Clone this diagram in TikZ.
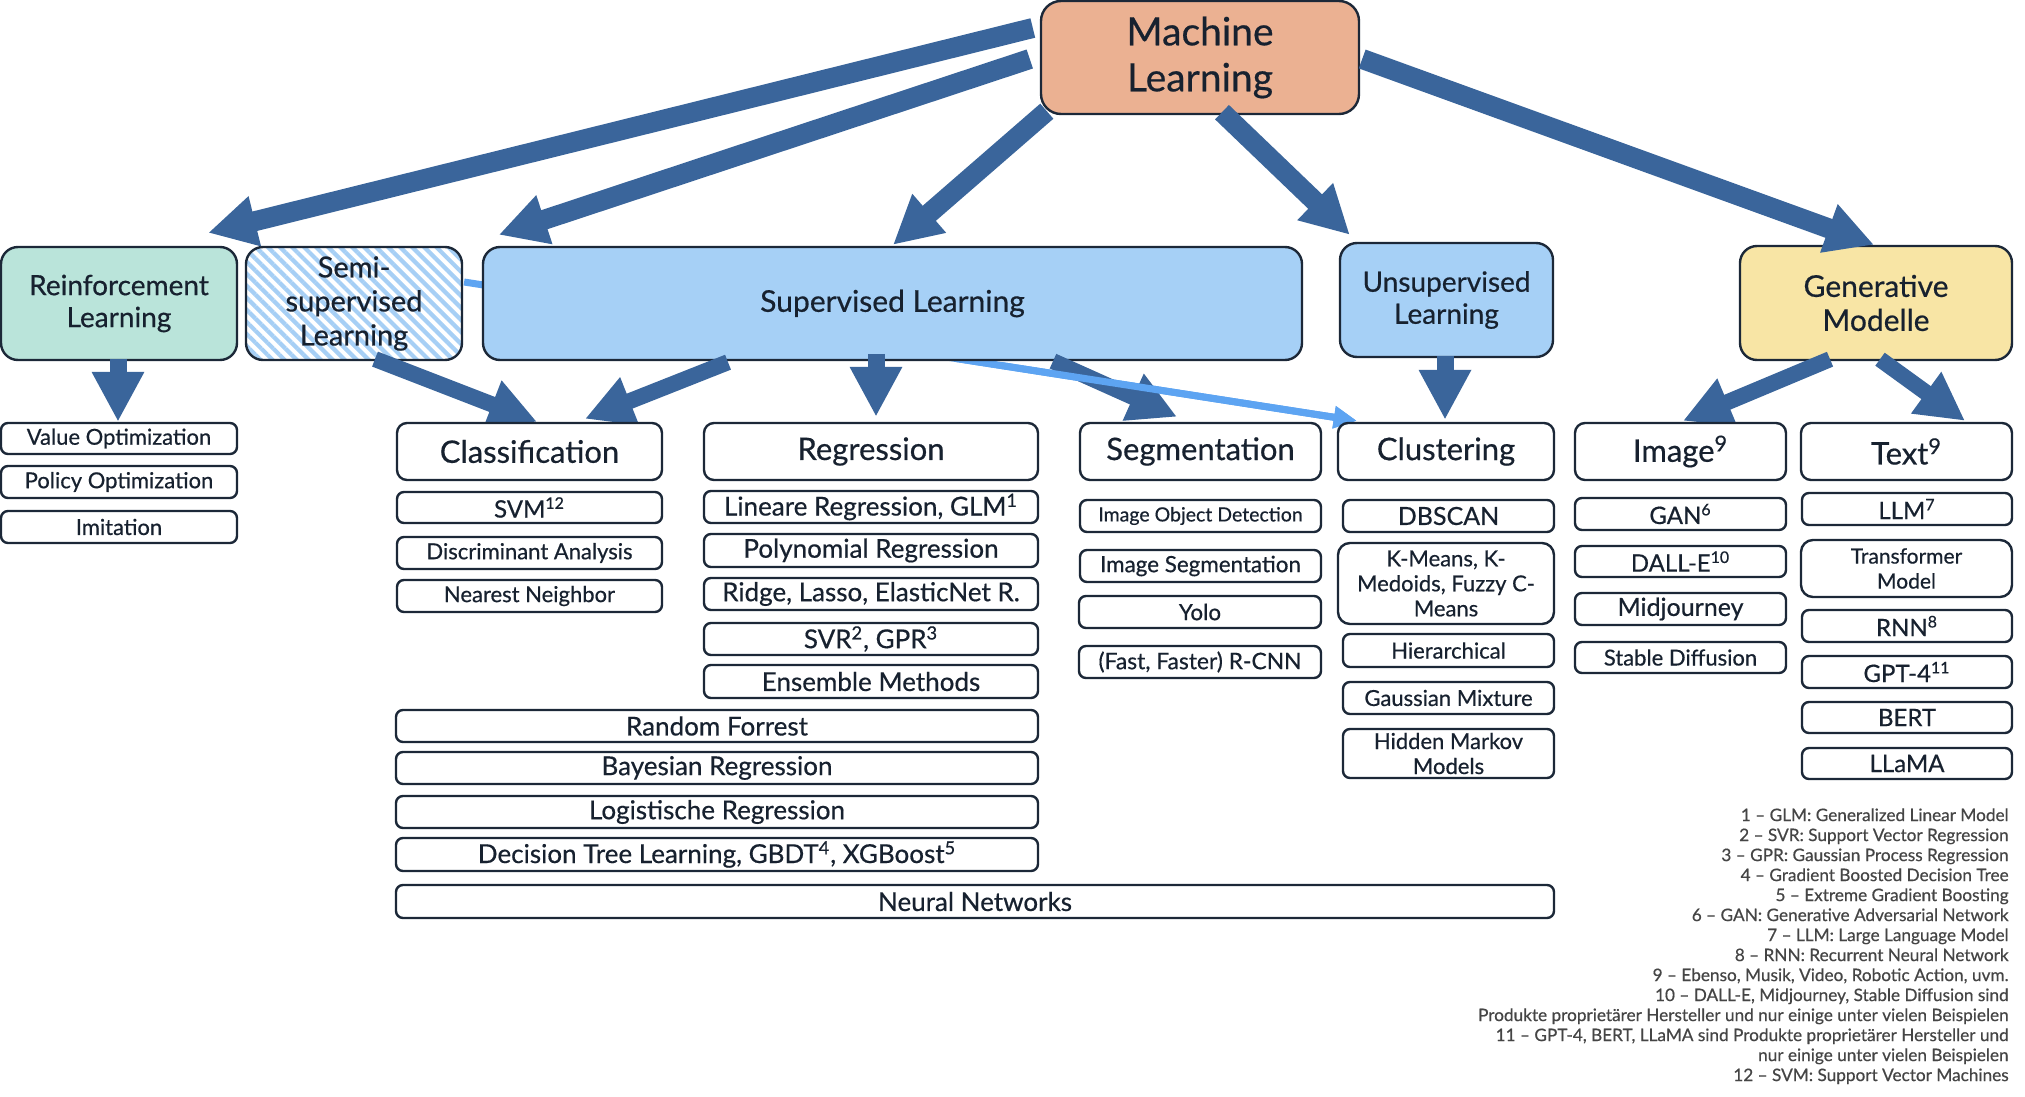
\documentclass[tikz,border=0pt]{standalone}
\usepackage{fontspec}
\setmainfont{Lato}[FakeBold=0.5]
\usetikzlibrary{calc,arrows.meta,patterns.meta}
\definecolor{bordc}{HTML}{1C2838}
\definecolor{txtc}{HTML}{17212F}
\definecolor{arrowc}{HTML}{3A659B}
\definecolor{lightarr}{HTML}{5DA4F2}
\definecolor{mlfill}{HTML}{EBB192}
\definecolor{rlfill}{HTML}{BAE4DA}
\definecolor{supfill}{HTML}{A6D0F6}
\definecolor{genfill}{HTML}{F8E5A5}
\definecolor{stripec}{HTML}{A6CFF5}
\definecolor{footc}{HTML}{454545}
\pgfdeclarelayer{bgl}
\pgfdeclarelayer{topl}
\pgfdeclarelayer{arrl}
\pgfdeclarelayer{lbl}
\pgfsetlayers{bgl,topl,arrl,lbl,main}
\newcommand\mybox[7]{%
  \pgfmathsetmacro\bxw{(#4-#2)/2}%
  \pgfmathsetmacro\bxh{(#5-#3)/2}%
  \pgfmathsetmacro\bxx{(#2+#4)/2}%
  \pgfmathsetmacro\bxy{(#3+#5)/2}%
  \node[#6, minimum width=\bxw pt, minimum height=\bxh pt] (#1) at (\bxx,\bxy) {#7};%
}
\newcommand\fs[2]{\fontsize{#1}{#2}\selectfont}
\tikzset{
  basebox/.style={draw=bordc, line width=1.2pt, text=txtc, inner sep=0pt, align=center},
  topbox/.style={basebox, rounded corners=8.5pt, font=\fs{14}{16}},
  hdr/.style={basebox, rounded corners=5pt, fill=white, font=\fs{15.5}{17}},
  item/.style={basebox, rounded corners=3.5pt, fill=white, font=\fs{13}{14}},
  bigarr/.style={draw=arrowc, line width=10pt, -{Triangle[length=24pt,width=24pt]}},
  subarr/.style={draw=arrowc, line width=8pt, -{Triangle[length=24pt,width=24pt]}},
  vertarr/.style={draw=arrowc, line width=8.5pt, -{Triangle[length=25pt,width=24.5pt]}},
  lightline/.style={draw=lightarr, line width=3.5pt, -{Triangle[length=11.5pt,width=10.5pt]}},
}
\begin{document}
\begin{tikzpicture}[x=0.5pt,y=-0.5pt]
\useasboundingbox (0,0) rectangle (2025,1097);
\begin{pgfonlayer}{bgl}
\fill[white] (0,0) rectangle (2025,1097);
\end{pgfonlayer}
% top level boxes
\begin{pgfonlayer}{topl}
\mybox{ml}{1041}{1}{1359}{114}{topbox, fill=mlfill, rounded corners=10pt, font=\fs{19.5}{23}}{Machine\\Learning}
\mybox{rl}{1}{247}{237}{360}{topbox, fill=rlfill}{Reinforcement\\Learning}
\mybox{semi}{246}{247}{462}{360}{topbox, preaction={fill=white}, pattern={Lines[angle=-45,distance=4.25pt,line width=2.1pt]}, pattern color=stripec, font=\fs{14.5}{17}}{Semi-\\supervised\\Learning}
\mybox{sup}{483}{247}{1302}{360}{topbox, fill=supfill, font=\fs{15}{16}}{Supervised Learning}
\mybox{unsup}{1340}{243}{1553}{357}{topbox, fill=supfill}{Unsupervised\\Learning}
\mybox{gen}{1740}{246}{2012}{360}{topbox, fill=genfill, font=\fs{15}{17}}{Generative\\Modelle}
\end{pgfonlayer}
% second level
\mybox{cls}{397}{423}{662}{480}{hdr}{Classification}
\mybox{reg}{704}{423}{1038}{480}{hdr}{Regression}
\mybox{seg}{1080}{423}{1321}{480}{hdr}{Segmentation}
\mybox{clu}{1338}{423}{1554}{480}{hdr}{Clustering}
\mybox{img}{1575}{423}{1786}{480}{hdr}{Image\textsuperscript{9}}
\mybox{txt}{1801}{423}{2012}{480}{hdr}{Text\textsuperscript{9}}
% items
\mybox{vo}{1}{423}{237}{454}{item, font=\fs{11}{12}}{Value Optimization}
\mybox{po}{1}{466}{237}{498}{item, font=\fs{11}{12}}{Policy Optimization}
\mybox{imi}{1}{511}{237}{543}{item, font=\fs{11}{12}}{Imitation}
\mybox{svm}{397}{492}{662}{523}{item, font=\fs{12}{14}}{SVM\textsuperscript{12}}
\mybox{da}{397}{537}{662}{569}{item, font=\fs{11}{13}}{Discriminant Analysis}
\mybox{nn}{397}{580}{662}{612}{item, font=\fs{11}{13}}{Nearest Neighbor}
\mybox{lin}{704}{491}{1038}{523}{item}{Lineare Regression, GLM\textsuperscript{1}}
\mybox{poly}{704}{534}{1038}{567}{item}{Polynomial Regression}
\mybox{ridge}{704}{578}{1038}{610}{item}{Ridge, Lasso, ElasticNet R.}
\mybox{svr}{704}{623}{1038}{655}{item}{SVR\textsuperscript{2}, GPR\textsuperscript{3}}
\mybox{ens}{704}{665}{1038}{698}{item}{Ensemble Methods}
\mybox{rf}{396}{710}{1038}{742}{item}{Random Forrest}
\mybox{bay}{396}{752}{1038}{784}{item}{Bayesian Regression}
\mybox{logi}{396}{796}{1038}{828}{item}{Logistische Regression}
\mybox{dt}{396}{838}{1038}{871}{item}{Decision Tree Learning, GBDT\textsuperscript{4}, XGBoost\textsuperscript{5}}
\mybox{neur}{396}{885}{1554}{918}{item}{Neural Networks}
\mybox{iod}{1080}{500}{1321}{532}{item, font=\fs{9.75}{11}}{Image Object Detection}
\mybox{iseg}{1080}{550}{1321}{582}{item, font=\fs{11.2}{13}}{Image Segmentation}
\mybox{yolo}{1079}{596}{1321}{628}{item, font=\fs{11.2}{13}}{Yolo}
\mybox{rcnn}{1079}{646}{1321}{678}{item, font=\fs{11.4}{13}}{(Fast, Faster) R-CNN}
\mybox{dbs}{1343}{500}{1554}{532}{item, font=\fs{12.5}{14}}{DBSCAN}
\mybox{km}{1338}{543}{1554}{624}{item, rounded corners=6pt, font=\fs{11}{12.5}}{K-Means, K-\\Medoids, Fuzzy C-\\Means}
\mybox{hier}{1343}{634}{1554}{667}{item, font=\fs{11}{13}}{Hierarchical}
\mybox{gm}{1343}{682}{1554}{714}{item, font=\fs{11}{13}}{Gaussian Mixture}
\mybox{hmm}{1343}{729}{1554}{778}{item, font=\fs{11}{12.5}}{Hidden Markov\\Models}
\mybox{gan}{1575}{498}{1786}{530}{item, font=\fs{12}{14}}{GAN\textsuperscript{6}}
\mybox{dalle}{1575}{546}{1786}{577}{item, font=\fs{12}{14}}{DALL-E\textsuperscript{10}}
\mybox{mid}{1575}{593}{1786}{625}{item, font=\fs{12.5}{14}}{Midjourney}
\mybox{sd}{1575}{642}{1786}{673}{item, font=\fs{11}{13}}{Stable Diffusion}
\mybox{llm}{1802}{493}{2012}{525}{item, font=\fs{12}{14}}{LLM\textsuperscript{7}}
\mybox{trf}{1801}{540}{2012}{597}{item, rounded corners=6pt, font=\fs{10.5}{12.5}}{Transformer\\Model}
\mybox{rnn}{1802}{610}{2012}{642}{item, font=\fs{12}{14}}{RNN\textsuperscript{8}}
\mybox{gpt}{1802}{656}{2012}{688}{item, font=\fs{12}{14}}{GPT-4\textsuperscript{11}}
\mybox{bert}{1802}{702}{2012}{733}{item, font=\fs{12}{14}}{BERT}
\mybox{llama}{1802}{748}{2012}{779}{item, font=\fs{12}{14}}{LLaMA}
% footnotes
\node[font=\fs{8.6}{10}, text=footc, align=right, anchor=north east, inner sep=0pt] (notes) at (2009,808) {%
1 -- GLM: Generalized Linear Model\\
2 -- SVR: Support Vector Regression\\
3 -- GPR: Gaussian Process Regression\\
4 -- Gradient Boosted Decision Tree\\
5 -- Extreme Gradient Boosting\\
6 -- GAN: Generative Adversarial Network\\
7 -- LLM: Large Language Model\\
8 -- RNN: Recurrent Neural Network\\
9 -- Ebenso, Musik, Video, Robotic Action, uvm.\\
10 -- DALL-E, Midjourney, Stable Diffusion sind\\
Produkte proprietärer Hersteller und nur einige unter vielen Beispielen\\
11 -- GPT-4, BERT, LLaMA sind Produkte proprietärer Hersteller und\\
nur einige unter vielen Beispielen\\
12 -- SVM: Support Vector Machines};
% light blue connector (under top boxes)
\begin{pgfonlayer}{bgl}
\draw[lightline] ($(semi.east)+(0,-21.5)$) -- ($(clu.north west)+(20,-1)$);
\end{pgfonlayer}
% dark arrows
\begin{pgfonlayer}{arrl}
\draw[bigarr] ($(ml.west)+(-7,-29.5)$) -- ($(rl.north east)+(-30,-13)$);
\draw[bigarr] ($(ml.west)+(-10,1.5)$) -- ($(sup.north west)+(17,-11)$);
\draw[bigarr] ($(ml.south west)+(7,-4)$) -- ($(sup.north)+(0.5,-1)$);
\draw[bigarr] ($(ml.south)+(22,-3)$) -- ($(unsup.north west)+(11,-7)$);
\draw[bigarr] ($(ml.east)+(2,1.5)$) -- ($(gen.north)+(-2,0)$);
\draw[vertarr] ($(rl.south)+(-1,-2)$) -- ($(vo.north)+(-1,0)$);
\draw[subarr] ($(semi.south)+(21,-3)$) -- ($(cls.north)+(7.5,0)$);
\draw[subarr] ($(sup.south)+(-164.5,1)$) -- ($(cls.north)+(55.5,-3)$);
\draw[vertarr] ($(reg.north)+(5,-68)$) -- ($(reg.north)+(5,-5)$);
\draw[subarr] ($(sup.south)+(160.5,0)$) -- ($(seg.north)+(-23.5,-5)$);
\draw[vertarr] ($(unsup.south)+(-1.5,-2)$) -- ($(clu.north)+(-1,-2)$);
\draw[subarr] ($(gen.south)+(-46,-2)$) -- ($(img.north)+(2.5,-1)$);
\draw[subarr] ($(gen.south)+(4,-2)$) -- ($(txt.north)+(58.5,-1)$);
\end{pgfonlayer}
% light blue connector again, above the dark arrows below the supervised box
\begin{pgfonlayer}{lbl}
\begin{scope}
\clip (0,362) rectangle (2025,1097);
\draw[lightline] ($(semi.east)+(0,-21.5)$) -- ($(clu.north west)+(20,-1)$);
\end{scope}
\end{pgfonlayer}
\end{tikzpicture}
\end{document}
